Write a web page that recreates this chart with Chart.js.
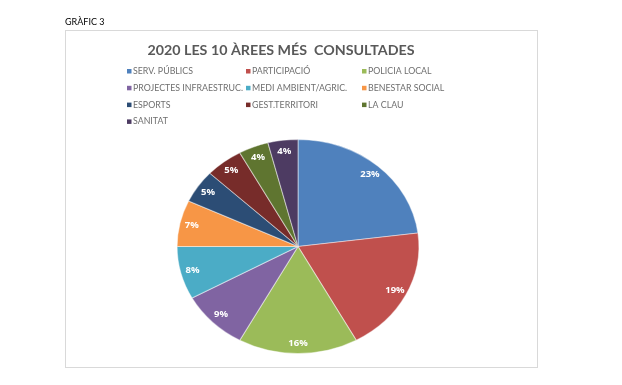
<!DOCTYPE html>
<html><head><meta charset="utf-8">
<script src="https://cdn.jsdelivr.net/npm/chart.js@4/dist/chart.umd.min.js"></script>
<style>html,body{margin:0;padding:0;background:#fff;}canvas{display:block}</style>
</head><body>
<canvas id="c" width="622" height="385"></canvas>
<script>
const categories = ['SERV. PÚBLICS','PARTICIPACIÓ','POLICIA LOCAL','PROJECTES INFRAESTRUC.','MEDI AMBIENT/AGRIC.','BENESTAR SOCIAL','ESPORTS','GEST.TERRITORI','LA CLAU','SANITAT'];
const percentages = [23,19,16,9,8,7,5,5,4,4];
const sliceColors = ['#4F81BD','#C0504D','#9BBB59','#8064A2','#4BACC6','#F79646','#2C4D75','#772C2A','#5F7530','#4D3B62'];
const chartTitle = '2020 LES 10 ÀREES MÉS  CONSULTADES';
const caption = 'GRÀFIC 3';

const SX = 1.13; // horizontal stretch of the pie as in the reference

const framePlugin = {
  id: 'frame',
  beforeDraw(chart) {
    const ctx = chart.ctx;
    ctx.save();
    ctx.fillStyle = '#fff';
    ctx.fillRect(0, 0, chart.width, chart.height);
    ctx.strokeStyle = '#d9d9d9';
    ctx.lineWidth = 1;
    ctx.strokeRect(65.5, 30.5, 472, 337);
    ctx.fillStyle = '#000';
    ctx.font = '9px Lato';
    ctx.textBaseline = 'middle';
    ctx.fillText(caption, 65, 22);
    // title
    ctx.fillStyle = '#595959';
    ctx.font = 'bold 14px Lato';
    ctx.textAlign = 'center';
    const w = ctx.measureText(chartTitle).width;
    ctx.translate(281, 50);
    ctx.scale(267 / w, 1);
    ctx.fillText(chartTitle, 0, 0);
    ctx.restore();
    // legend
    ctx.save();
    const colX = [127, 246, 362];
    ctx.font = '9px Lato';
    ctx.textBaseline = 'middle';
    const fit = 110 / ctx.measureText(categories[3]).width;
    categories.forEach((name, i) => {
      const r = Math.floor(i / 3), c = i % 3;
      const x = colX[c], y = 71 + r * 16.8;
      ctx.fillStyle = sliceColors[i];
      ctx.fillRect(x, y - 2, 4.5, 4.5);
      ctx.save();
      ctx.translate(x + 6, y);
      ctx.scale(fit, 1);
      ctx.fillStyle = '#6f6f6f';
      ctx.fillText(name, 0, 0);
      ctx.restore();
    });
    ctx.restore();
  }
};

const stretchPlugin = {
  id: 'stretch',
  beforeDatasetsDraw(chart) {
    const ctx = chart.ctx;
    const cx = (chart.chartArea.left + chart.chartArea.right) / 2;
    ctx.save();
    ctx.translate(cx, 0);
    ctx.scale(SX, 1);
    ctx.translate(-cx, 0);
  },
  afterDatasetsDraw(chart) {
    const ctx = chart.ctx;
    ctx.restore();
    const meta = chart.getDatasetMeta(0);
    ctx.save();
    ctx.fillStyle = '#fff';
    ctx.font = 'bold 9.5px "Open Sans"';
    ctx.textAlign = 'center';
    ctx.textBaseline = 'middle';
    meta.data.forEach((arc, i) => {
      const p = arc.getProps(['x','y','startAngle','endAngle','outerRadius'], true);
      const mid = (p.startAngle + p.endAngle) / 2;
      const r = p.outerRadius * 0.9;
      ctx.fillText(percentages[i] + '%', p.x + Math.cos(mid) * r * SX, p.y + Math.sin(mid) * r);
    });
    ctx.restore();
  }
};

new Chart(document.getElementById('c'), {
  type: 'pie',
  data: {
    labels: categories,
    datasets: [{
      data: percentages,
      backgroundColor: sliceColors,
      borderColor: 'rgba(255,255,255,0.45)',
      borderWidth: 1
    }]
  },
  options: {
    responsive: false,
    animation: false,
    events: [],
    layout: { padding: { top: 139, bottom: 31, left: 150, right: 176 } },
    plugins: { legend: { display: false }, title: { display: false }, tooltip: { enabled: false } }
  },
  plugins: [framePlugin, stretchPlugin]
});
</script>
</body></html>
